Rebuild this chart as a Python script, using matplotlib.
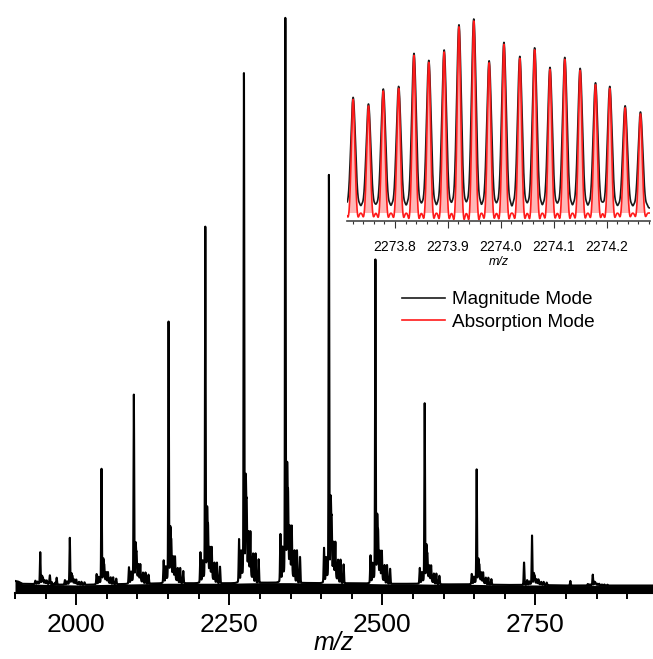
"""Broadband mass spectrum with an isotope-resolved inset (magnitude vs absorption mode)."""

import numpy as np
import matplotlib
matplotlib.use("Agg")
import matplotlib.pyplot as plt
from matplotlib.ticker import MultipleLocator

plt.rcParams.update({
    "font.family": ["Liberation Sans", "DejaVu Sans"],
})

# ---- main spectrum: charge-state peaks (m/z, relative intensity)
peak_mz = [1941.2, 1989.5, 2041.3, 2094.1, 2150.8, 2210.8, 2273.9,
           2341.5, 2412.7, 2488.6, 2569.1, 2654.0, 2744.4, 2843.6]
peak_int = [7.1, 9.6, 21.6, 34.5, 47.2, 63.7, 90.4,
            100.0, 72.7, 58.0, 33.0, 21.5, 10.0, 3.2]

# adduct / satellite spikes beside each charge state (offset in m/z, fraction of parent)
sat_offset = [-8.0, -4.5, 3.0, 4.5, 7.5, 10.5, 15.0, 19.0, 24.0]
sat_frac = [0.08, 0.05, 0.17, 0.12, 0.07, 0.08, 0.05, 0.055, 0.045]

# isolated small peaks in the noise
extra_mz = [1957.0, 1968.0, 2731.4, 2807.0]
extra_int = [1.4, 1.2, 3.9, 0.8]

# noise floor level along the axis
noise_mz = [1900, 1905, 1912, 1950, 2000, 2050, 2100, 2150, 2200, 2250, 2300, 2350,
            2400, 2450, 2500, 2550, 2600, 2650, 2700, 2750, 2800, 2850, 2900, 2942]
noise_lvl = [2.1, 2.0, 1.6, 1.5, 1.4, 1.5, 1.6, 1.7, 1.7, 1.7, 1.8, 1.8,
             1.7, 1.7, 1.6, 1.6, 1.5, 1.5, 1.4, 1.4, 1.3, 1.3, 1.3, 1.3]

# ---- inset: isotopic envelope of the 2274 peak
iso_mz = [2273.721, 2273.750, 2273.778, 2273.807, 2273.836, 2273.864, 2273.893,
          2273.921, 2273.949, 2273.978, 2274.006, 2274.036, 2274.064, 2274.093,
          2274.121, 2274.150, 2274.179, 2274.206, 2274.235, 2274.264]
iso_int = [60.8, 57.5, 65.0, 66.3, 82.8, 79.3, 84.5, 97.1, 100.0, 79.1,
           88.3, 81.3, 85.6, 75.8, 80.8, 75.3, 68.1, 66.3, 56.6, 53.5]
mag_base = 6.5
abs_base = 4.0


def gauss(x, c, s):
    return np.exp(-0.5 * ((x - c) / s) ** 2)


def main_trace():
    x = np.arange(1900, 2942, 0.1)
    floor = np.interp(x, noise_mz, noise_lvl)
    y = floor.copy()
    for c, h in zip(peak_mz, peak_int):
        hump = 0.035 * h
        # peak amplitude chosen so the apex sits at the read intensity
        top = h - np.interp(c, noise_mz, noise_lvl) - hump * gauss(c, c + 4, 6)
        y += top * gauss(x, c, 0.55)
        y += hump * gauss(x, c + 4, 6)
        for o, f in zip(sat_offset, sat_frac):
            y += h * f * gauss(x, c + o, 0.6)
    for c, h in zip(extra_mz, extra_int):
        y += h * gauss(x, c, 0.6)
    return x, y, floor


def inset_traces():
    x = np.arange(2273.71, 2274.285, 0.0002)
    px = 1 / 529.0  # one pixel in m/z
    mag = np.full_like(x, mag_base)
    ab = np.full_like(x, abs_base)
    for c, h in zip(iso_mz, iso_int):
        mag += (h + 1 - mag_base) * gauss(x, c, 2.3 * px)
        mag += 0.02 * h * (gauss(x, c - 6.5 * px, 0.8 * px) + gauss(x, c + 6.5 * px, 0.8 * px))
        ab += (h - abs_base) * gauss(x, c, 1.7 * px)
        ab -= 0.045 * h * (gauss(x, c - 4.8 * px, 1.0 * px) + gauss(x, c + 4.8 * px, 1.0 * px))
    return x, mag, ab


fig = plt.figure(figsize=(6.53, 6.59), dpi=100)

ax = fig.add_axes([15 / 653, 1 - 593 / 659, 638 / 653, 578 / 659])
x, y, floor = main_trace()
ax.fill_between(x, 0, floor, color="black", lw=0)
ax.plot(x, y, color="black", lw=1.5)
ax.set_xlim(1900, 2942)
ax.set_ylim(0, 100.5)
for s in ["left", "right", "top"]:
    ax.spines[s].set_visible(False)
ax.spines["bottom"].set_linewidth(1.5)
ax.set_yticks([])
ax.xaxis.set_major_locator(MultipleLocator(250))
ax.xaxis.set_minor_locator(MultipleLocator(50))
ax.tick_params(axis="x", which="major", length=8.6, width=1.4, labelsize=19, pad=5.5)
ax.tick_params(axis="x", which="minor", length=4.3, width=1.4)
ax.set_xlabel("m/z", fontsize=18, style="italic", labelpad=-4)

ins = fig.add_axes([347.3 / 653, 1 - 221 / 659, 302.7 / 653, 206 / 659])
ins.patch.set_alpha(0)
xi, mag, ab = inset_traces()
ins.fill_between(xi, abs_base, ab, where=ab > abs_base, color="#ff3030", alpha=0.35, lw=0)
ins.plot(xi, mag, color="#1a1a1a", lw=1.2, label="Magnitude Mode")
ins.plot(xi, ab, color="#ff1a1a", lw=1.2, label="Absorption Mode")
ins.set_xlim(2273.71, 2274.282)
ins.set_ylim(0, 103)
for s in ["left", "right", "top"]:
    ins.spines[s].set_visible(False)
ins.spines["bottom"].set_linewidth(1.2)
ins.spines["bottom"].set_color("#444444")
ins.set_yticks([])
ins.xaxis.set_major_locator(MultipleLocator(0.1))
ins.xaxis.set_minor_locator(MultipleLocator(0.02))
ins.ticklabel_format(axis="x", useOffset=False)
ins.tick_params(axis="x", which="major", length=5, width=0.8, color="#333333",
                labelsize=10, pad=9)
ins.tick_params(axis="x", which="minor", length=2.2, width=0.8, color="#333333")
ins.set_xlabel("m/z", fontsize=9, style="italic", labelpad=1)

handles, labels = ins.get_legend_handles_labels()
fig.legend(handles, labels, loc="upper left",
           bbox_to_anchor=(401.7 / 653, 1 - 291 / 659),
           frameon=False, fontsize=13.7, handlelength=2.3, handletextpad=0.35,
           labelspacing=0.28, borderpad=0, borderaxespad=0)

fig.savefig("out.png", dpi=100)
